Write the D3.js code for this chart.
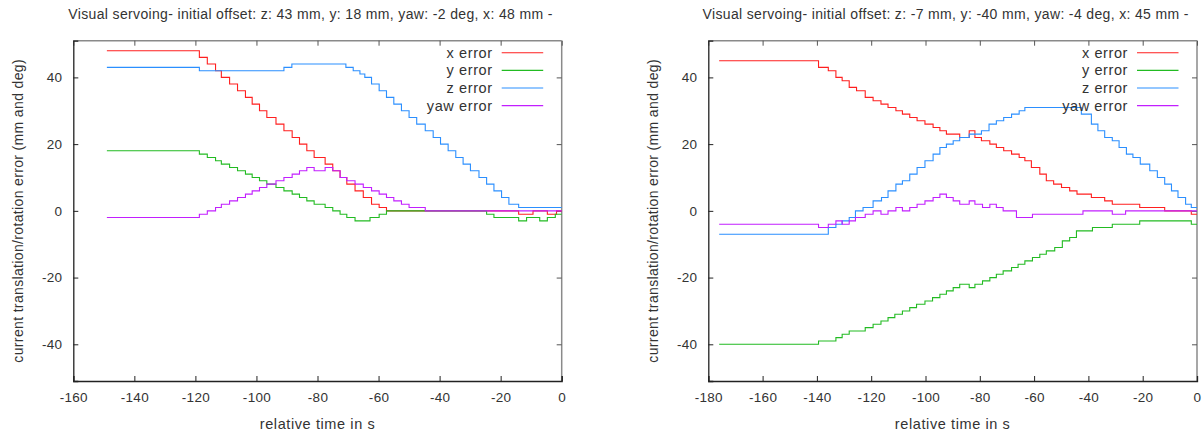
<!DOCTYPE html>
<html>
<head>
<meta charset="utf-8">
<script src="https://cdn.jsdelivr.net/npm/d3@7"></script>
<style>
  body { margin: 0; background: #fff; }
  text { font-family: "Liberation Sans", Arial, sans-serif; fill: #333; }
</style>
</head>
<body>
<svg id="chart" width="1204" height="434"></svg>
<script>
// series names and colours (same for both plots)
const seriesNames = ["x error", "y error", "z error", "yaw error"];
const seriesColors = ["#ff1f1f", "#22bb22", "#2b8fff", "#c21fff"];

const yTicks = [-40, -20, 0, 20, 40];
const leftXTicks = [-160, -140, -120, -100, -80, -60, -40, -20, 0];
const rightXTicks = [-180, -160, -140, -120, -100, -80, -60, -40, -20, 0];

const leftTitle = "Visual servoing- initial offset: z: 43 mm, y: 18 mm, yaw: -2 deg, x: 48 mm -";
const rightTitle = "Visual servoing- initial offset: z: -7 mm, y: -40 mm, yaw: -4 deg, x: 45 mm -";

// [relative time, value] at each step change
const leftX = [[-149,48],[-118.7,46],[-116.1,44],[-113.4,42],[-111.5,40],[-108.8,38],[-106.2,36],[-103.6,34],[-101.4,32],[-99,30],[-96.6,28],[-93.6,26],[-91,24],[-88.3,22],[-85.9,20],[-83.5,18],[-81.1,16],[-77.5,14],[-75,12],[-72.6,10],[-70.4,8],[-67.7,6],[-65,4],[-62.3,2],[-59.8,1],[-57.4,0],[-14.1,-1],[-9.4,0],[-4.7,-1],[-1.7,0],[0,0]];
const leftY = [[-149,18],[-118.7,17],[-116.1,16],[-113.4,15],[-111.5,14],[-108.8,13],[-106.2,12],[-103.6,11],[-101.4,10],[-99,9],[-96.6,8],[-93.6,7],[-91,6],[-88.3,5],[-85.9,4],[-83.5,3],[-81.1,2],[-77.5,1],[-75,0],[-72.6,-1],[-70.4,-2],[-67.7,-3],[-62.8,-2],[-59.8,-1],[-57.4,0],[-24.6,-1],[-22.2,-2],[-14.1,-3],[-11.5,-2],[-7.2,-3],[-4.7,-2],[-2.1,-1],[0,-1]];
const leftZ = [[-149,43],[-118.7,42],[-91,43],[-88.4,44],[-70.7,43],[-68.3,42],[-66.1,41],[-64.5,40],[-62.3,38],[-59.8,36],[-57.4,34],[-55,32],[-52.5,30],[-50,28],[-47.5,26],[-44.7,24],[-42.1,22],[-39.7,20],[-37.2,18],[-34.7,16],[-32.3,14],[-29.9,12],[-27.1,10],[-24.6,8],[-22.2,6],[-19.7,4],[-17.3,2],[-14.1,1],[0,1]];
const leftYaw = [[-149,-2],[-118.7,-1],[-116.1,0],[-113.4,1],[-111.5,2],[-108.8,3],[-106.2,4],[-103.6,5],[-101.4,6],[-99,7],[-96.6,8],[-93.6,9],[-91,10],[-88.3,11],[-85.9,12],[-83.5,13],[-81.1,12],[-77.5,13],[-75,12],[-72.6,10],[-70.4,9],[-67.7,8],[-65,7],[-62.3,6],[-59.8,5],[-57.4,4],[-55,3],[-52.5,2],[-50,1],[-44.7,0],[0,0]];

const rightX = [[-176,45],[-139.4,43],[-135.8,42],[-133,40],[-130.7,39],[-128.1,37],[-125.4,36],[-122.2,34],[-119.3,33],[-116.4,32],[-113.8,31],[-110.9,30],[-108.5,29],[-105.8,28],[-103.1,27],[-100.2,26],[-97.2,25],[-94.7,24],[-92.3,23],[-87.4,22],[-83.9,24],[-81.8,22],[-79.4,21],[-76.3,20],[-73.9,19],[-71.2,18],[-68.3,17],[-65.5,16],[-63.4,15],[-61,13],[-57.9,11],[-55.5,9],[-52.8,8],[-49.9,7],[-46.9,6],[-44.2,5],[-38.9,4],[-34,3],[-31.2,2],[-21.1,1],[-11.9,0],[-2.1,-1],[0,-1]];
const rightY = [[-176,-40],[-139.4,-39],[-133,-38],[-130.7,-37],[-128.1,-36],[-122.2,-35],[-119.3,-34],[-116.4,-33],[-113.8,-32],[-111.3,-31],[-108.5,-30],[-105.8,-29],[-103.3,-28],[-100.2,-27],[-97.4,-26],[-94.7,-25],[-92.3,-24],[-89.8,-23],[-87.4,-22],[-83.9,-23],[-81.8,-22],[-79,-21],[-76.3,-20],[-73.9,-19],[-71.4,-18],[-68.3,-17],[-65.9,-16],[-63.4,-15],[-60.6,-14],[-57.9,-13],[-55.5,-12],[-52.4,-11],[-49.6,-9],[-46.9,-8],[-44.4,-6],[-38.5,-5],[-31.2,-4],[-21.1,-3],[-2.1,-4],[0,-4]];
const rightZ = [[-176,-7],[-135.8,-5],[-133,-4],[-130.7,-3],[-128.1,-2],[-125.8,0],[-123,1],[-119.3,3],[-116.2,4],[-113.8,6],[-110.9,8],[-108.5,9],[-105.8,11],[-103.1,13],[-100.2,15],[-97.2,17],[-94.7,19],[-92.3,20],[-89.8,21],[-87.4,22],[-83.9,23],[-79.4,24],[-76.6,26],[-73.9,27],[-71.2,28],[-68.3,29],[-65.5,30],[-63.4,31],[-42.6,29],[-38.9,26],[-36.5,24],[-34,22],[-31.2,21],[-28.7,19],[-26,17],[-23.6,16],[-20.9,14],[-17.4,12],[-14.6,10],[-11.9,8],[-9.4,6],[-7,4],[-4.2,2],[-2.1,1],[0,1]];
const rightYaw = [[-176,-4],[-139.4,-5],[-135.8,-4],[-133,-3],[-130.7,-4],[-128.1,-3],[-125.8,-2],[-122.2,-1],[-119.3,0],[-116.4,-1],[-113.8,0],[-110.9,1],[-108.5,0],[-105.8,1],[-103.1,2],[-100.2,3],[-97.2,4],[-94.7,5],[-92.3,4],[-89.8,3],[-87.4,2],[-83.9,3],[-81.8,2],[-79,1],[-76.3,2],[-73.9,1],[-71.4,0],[-66.5,-2],[-60.6,-1],[-42,0],[-31.2,-1],[-26.3,0],[0,0]];

class ErrorChart {
  constructor(_config, _series) {
    this.config = {
      svg: _config.svg,
      left: _config.left,
      right: _config.right,
      top: 40.7,
      bottom: 381,
      xDomain: _config.xDomain,
      xTicks: _config.xTicks,
      title: _config.title
    };
    this.series = _series;
    this.initVis();
  }

  initVis() {
    let vis = this;
    const c = vis.config;
    const g = c.svg.append("g");

    vis.x = d3.scaleLinear().domain(c.xDomain).range([c.left, c.right]);
    vis.y = d3.scaleLinear().domain([-51, 51]).range([c.bottom, c.top]);
    const w = c.right - c.left;
    const h = c.bottom - c.top;

    // frame: top/right grey, left/bottom dark
    g.append("line").attr("x1", c.left).attr("x2", c.right).attr("y1", c.top).attr("y2", c.top)
      .attr("stroke", "#8a8a8a").attr("stroke-width", 1.5);
    g.append("line").attr("x1", c.right).attr("x2", c.right).attr("y1", c.top).attr("y2", c.bottom)
      .attr("stroke", "#8a8a8a").attr("stroke-width", 1.5);

    // axes with inward ticks
    const xb = g.append("g").attr("transform", `translate(0,${c.bottom})`)
      .call(d3.axisBottom(vis.x).tickValues(c.xTicks).tickSize(-5).tickPadding(8).tickFormat(d => d));
    const xt = g.append("g").attr("transform", `translate(0,${c.top})`)
      .call(d3.axisTop(vis.x).tickValues(c.xTicks).tickSize(-5).tickFormat(""));
    const yl = g.append("g").attr("transform", `translate(${c.left},0)`)
      .call(d3.axisLeft(vis.y).tickValues(yTicks).tickSize(-5).tickPadding(11).tickFormat(d => d));
    const yr = g.append("g").attr("transform", `translate(${c.right},0)`)
      .call(d3.axisRight(vis.y).tickValues(yTicks).tickSize(-5).tickFormat(""));

    [xt, yr].forEach(a => {
      a.select(".domain").remove();
      a.selectAll(".tick line").attr("stroke", "#555");
    });
    [xb, yl].forEach(a => {
      a.select(".domain").attr("stroke", "#222").attr("stroke-width", 1.3);
      a.selectAll(".tick line").attr("stroke", "#222");
      a.selectAll(".tick text").attr("fill", "#333").style("font-size", "13.5px")
        .style("letter-spacing", "0.3px")
        .style("font-family", '"Liberation Sans", Arial, sans-serif');
    });
    xb.selectAll(".tick text").attr("dy", "0.95em");

    // step lines
    const line = d3.line()
      .curve(d3.curveStepAfter)
      .x(d => vis.x(d[0]))
      .y(d => vis.y(d[1]));

    g.selectAll(".series")
      .data(vis.series)
      .join("path")
      .attr("class", "series")
      .attr("fill", "none")
      .attr("stroke", (d, i) => seriesColors[i])
      .attr("stroke-width", 1.1)
      .attr("d", d => line(d));

    // legend
    const lg = g.append("g");
    seriesNames.forEach((name, i) => {
      const ly = 52.8 + i * 17.6;
      lg.append("text")
        .attr("x", c.right - 69).attr("y", ly)
        .attr("dy", "0.35em").attr("text-anchor", "end")
        .style("font-size", "14.5px").style("letter-spacing", "0.6px").text(name);
      lg.append("line")
        .attr("x1", c.right - 60).attr("x2", c.right - 18.5)
        .attr("y1", ly).attr("y2", ly)
        .attr("stroke", seriesColors[i]).attr("stroke-width", 1.1);
    });

    // title and axis labels
    g.append("text")
      .attr("x", c.left + w / 2 - 7).attr("y", 14).attr("dy", "0.35em")
      .attr("text-anchor", "middle").style("font-size", "14px")
      .style("letter-spacing", "0.35px").text(c.title);
    g.append("text")
      .attr("x", c.left + w / 2).attr("y", 424).attr("dy", "0.35em")
      .attr("text-anchor", "middle").style("font-size", "14.5px")
      .style("letter-spacing", "0.6px").text("relative time in s");
    g.append("text")
      .attr("transform", `translate(${c.left - 55},${c.top + h / 2}) rotate(-90)`)
      .attr("dy", "0.35em").attr("text-anchor", "middle")
      .style("font-size", "14px").style("letter-spacing", "0.35px")
      .text("current translation/rotation error (mm and deg)");
  }
}

const svg = d3.select("#chart");

new ErrorChart({
  svg: svg, left: 73.3, right: 561.7, xDomain: [-160, 0], xTicks: leftXTicks, title: leftTitle
}, [leftX, leftY, leftZ, leftYaw]);

new ErrorChart({
  svg: svg, left: 708.3, right: 1197, xDomain: [-180, 0], xTicks: rightXTicks, title: rightTitle
}, [rightX, rightY, rightZ, rightYaw]);
</script>
</body>
</html>
